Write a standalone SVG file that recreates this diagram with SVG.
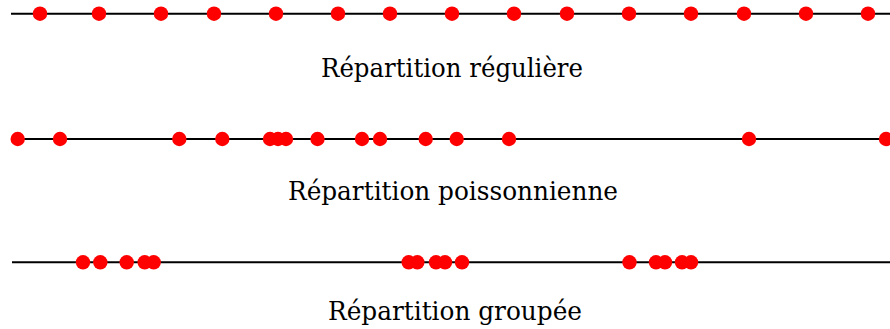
<svg xmlns="http://www.w3.org/2000/svg" width="890" height="329" viewBox="0 0 890 329">
<style>
.axis{stroke:#000;stroke-width:2;fill:none}
.dot{fill:#ff0000}
.lbl{font-family:"DejaVu Serif",serif;font-size:26px;fill:#000;text-anchor:middle}
</style>
<rect width="890" height="329" fill="#fff"/>
<g id="connectors">
<line class="axis" x1="11" y1="13.7" x2="890" y2="13.7"/>
<line class="axis" x1="11" y1="139" x2="890" y2="139"/>
<line class="axis" x1="12" y1="262.3" x2="890" y2="262.3"/>
</g>
<g id="row-reguliere">
<circle class="dot" cx="40" cy="13.7" r="7.2"/>
<circle class="dot" cx="99" cy="13.7" r="7.2"/>
<circle class="dot" cx="161" cy="13.7" r="7.2"/>
<circle class="dot" cx="214" cy="13.7" r="7.2"/>
<circle class="dot" cx="276" cy="13.7" r="7.2"/>
<circle class="dot" cx="338" cy="13.7" r="7.2"/>
<circle class="dot" cx="390" cy="13.7" r="7.2"/>
<circle class="dot" cx="452" cy="13.7" r="7.2"/>
<circle class="dot" cx="514" cy="13.7" r="7.2"/>
<circle class="dot" cx="567" cy="13.7" r="7.2"/>
<circle class="dot" cx="629" cy="13.7" r="7.2"/>
<circle class="dot" cx="691" cy="13.7" r="7.2"/>
<circle class="dot" cx="744" cy="13.7" r="7.2"/>
<circle class="dot" cx="806" cy="13.7" r="7.2"/>
<circle class="dot" cx="868" cy="13.7" r="7.2"/>
<text class="lbl" x="452" y="77" textLength="262" lengthAdjust="spacingAndGlyphs">Répartition régulière</text>
</g>
<g id="row-poissonnienne">
<circle class="dot" cx="17.7" cy="139" r="7.2"/>
<circle class="dot" cx="60" cy="139" r="7.2"/>
<circle class="dot" cx="179.3" cy="139" r="7.2"/>
<circle class="dot" cx="222.3" cy="139" r="7.2"/>
<circle class="dot" cx="270" cy="139" r="7.2"/>
<circle class="dot" cx="278" cy="139" r="7.2"/>
<circle class="dot" cx="286" cy="139" r="7.2"/>
<circle class="dot" cx="317.5" cy="139" r="7.2"/>
<circle class="dot" cx="362" cy="139" r="7.2"/>
<circle class="dot" cx="380" cy="139" r="7.2"/>
<circle class="dot" cx="425.7" cy="139" r="7.2"/>
<circle class="dot" cx="456.7" cy="139" r="7.2"/>
<circle class="dot" cx="509" cy="139" r="7.2"/>
<circle class="dot" cx="749" cy="139" r="7.2"/>
<circle class="dot" cx="886" cy="139" r="7.2"/>
<text class="lbl" x="453" y="200" textLength="330" lengthAdjust="spacingAndGlyphs">Répartition poissonnienne</text>
</g>
<g id="row-groupee">
<circle class="dot" cx="83" cy="262.3" r="7.2"/>
<circle class="dot" cx="100.3" cy="262.3" r="7.2"/>
<circle class="dot" cx="126.7" cy="262.3" r="7.2"/>
<circle class="dot" cx="144.7" cy="262.3" r="7.2"/>
<circle class="dot" cx="153.7" cy="262.3" r="7.2"/>
<circle class="dot" cx="408.7" cy="262.3" r="7.2"/>
<circle class="dot" cx="417.3" cy="262.3" r="7.2"/>
<circle class="dot" cx="436" cy="262.3" r="7.2"/>
<circle class="dot" cx="445" cy="262.3" r="7.2"/>
<circle class="dot" cx="462" cy="262.3" r="7.2"/>
<circle class="dot" cx="629.5" cy="262.3" r="7.2"/>
<circle class="dot" cx="656" cy="262.3" r="7.2"/>
<circle class="dot" cx="665" cy="262.3" r="7.2"/>
<circle class="dot" cx="682" cy="262.3" r="7.2"/>
<circle class="dot" cx="691" cy="262.3" r="7.2"/>
<text class="lbl" x="455" y="320" textLength="254" lengthAdjust="spacingAndGlyphs">Répartition groupée</text>
</g>
</svg>
